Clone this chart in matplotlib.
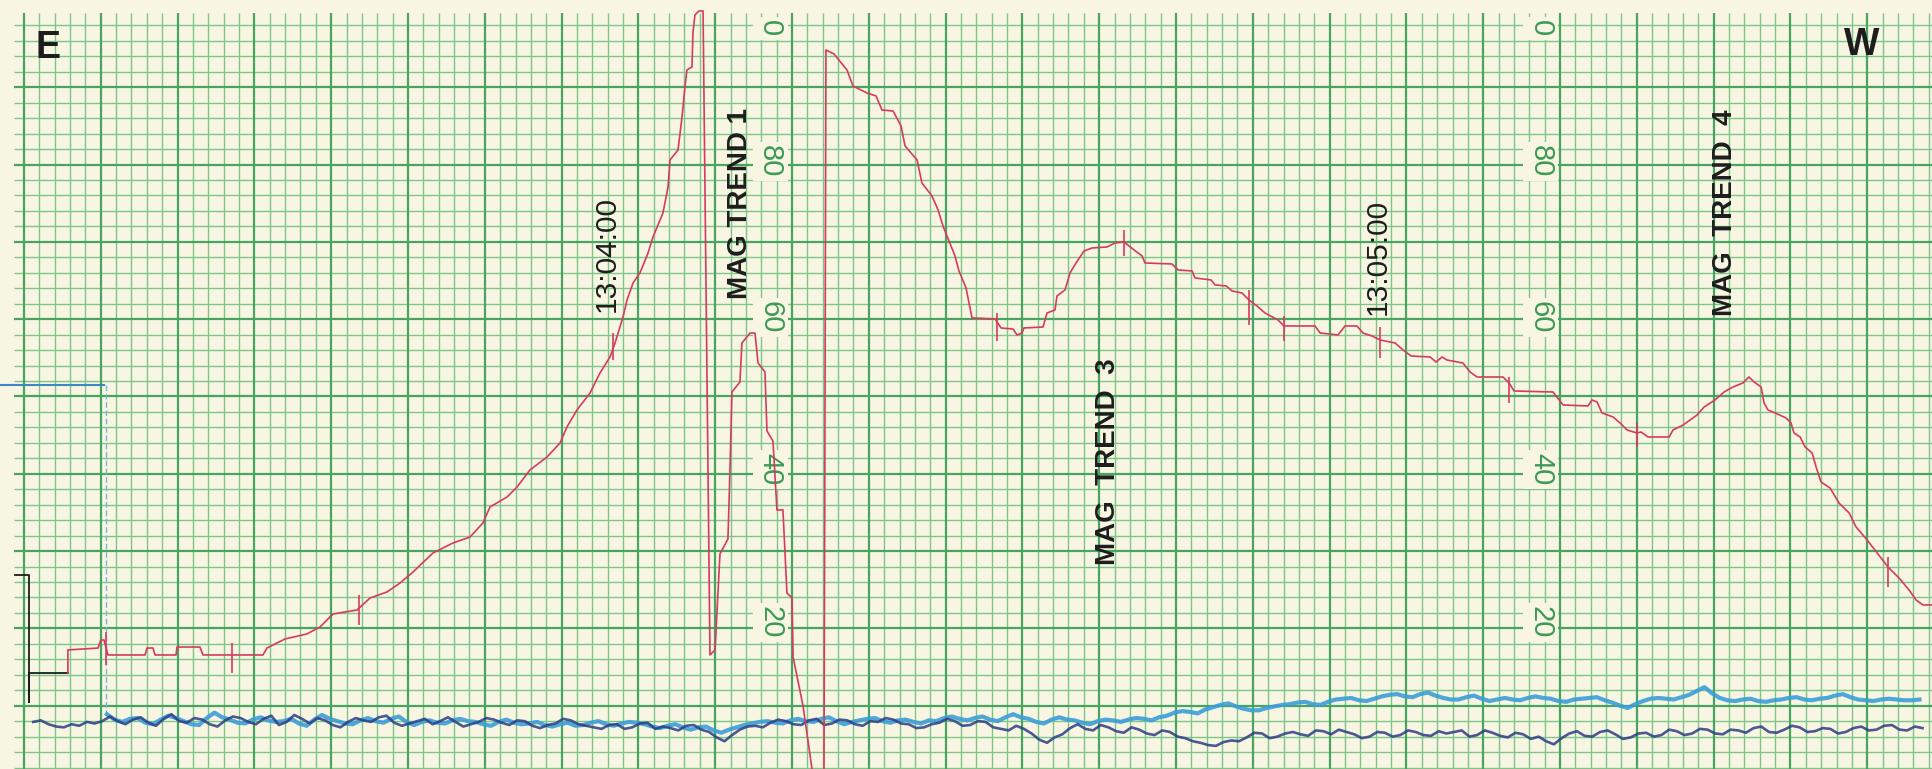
import matplotlib.pyplot as plt
import numpy as np

plt.rcParams["font.family"] = ["Liberation Sans", "DejaVu Sans"]

PAPER = "#f8f6e2"
GRID_MINOR = "#7cc68b"
GRID_MAJOR = "#47a461"
PEN_RED = "#d63b5e"
PEN_BLUE = "#3c9dd7"
PEN_NAVY = "#2d3d84"
INK = "#1d1d1d"
SCALE_GREEN = "#3b9a55"

# x: minor chart divisions, y: recorder scale units (0-100)
X_MIN, X_MAX = -1.56, 124.28
Y_MIN, Y_MAX = 1.81, 101.29

# zero-offset pen at the start of the strip
zero_x = [-0.59, 0.33, 0.33, 0.33, 0.33, 2.86]
zero_y = [26.91, 26.91, 10.5, 14.23, 14.23, 14.23]

# reference level (blue pen) before the run starts
ref_x = [-1.56, 5.2]
ref_y = [51.49, 51.49]
ref_drop_x = [5.34, 5.34]
ref_drop_y = [51.49, 8.3]

# magnetometer trend pen
mag_x = [
    2.86, 2.86, 4.82, 5.01, 5.21, 5.47, 7.88, 8.01, 8.40, 8.53, 9.90, 9.96,
    11.46, 11.65, 15.56, 15.82, 16.99, 18.42, 19.27, 20.12, 21.68, 22.53,
    23.63, 24.48, 25.33, 26.63, 27.93, 29.04, 29.88, 30.34, 31.45, 32.10,
    32.94, 34.05, 34.90, 35.35, 36.00, 36.85, 37.50, 38.15, 38.48, 39.00,
    39.26, 39.65, 40.10, 40.63, 40.95, 41.60, 41.93, 42.06, 42.58, 42.84,
    43.03, 43.16, 43.49, 43.55, 43.68, 43.95, 44.21, 44.66, 44.99, 45.31,
    45.83, 45.96, 46.09, 46.61, 46.74, 47.27, 47.59, 47.79, 48.24, 48.37,
    48.76, 49.02, 49.41, 49.67, 50.00, 50.07, 50.72, 51.17, 51.50, 52.08,
    52.21, 52.73, 53.58, 53.97, 54.88, 55.47, 55.86, 56.58, 57.10, 57.36,
    58.14, 58.46, 59.11, 59.51, 59.83, 60.22, 60.61, 60.87, 61.33, 61.72,
    63.22, 63.61, 64.39, 64.65, 64.97, 65.10, 66.34, 66.60, 67.12, 67.25,
    67.77, 68.10, 68.49, 69.01, 69.53, 70.51, 71.03, 71.61, 72.27, 72.79,
    72.98, 74.74, 75.13, 76.04, 76.24, 77.28, 77.54, 78.26, 78.65, 79.30,
    79.75, 80.27, 80.79, 81.64, 82.03, 84.05, 84.38, 85.55, 86.00, 86.78,
    87.17, 87.76, 88.28, 89.26, 89.78, 90.30, 91.54, 91.93, 92.32, 92.64,
    93.68, 94.14, 94.60, 96.29, 96.68, 97.01, 99.54, 100.20, 101.82, 102.08,
    102.41, 102.73, 103.45, 103.91, 104.36, 105.01, 105.27, 105.73, 107.10,
    107.36, 108.01, 108.46, 108.92, 109.38, 110.09, 110.68, 111.26, 111.91,
    112.30, 112.63, 113.09, 113.28, 113.54, 114.00, 114.71, 115.04, 115.23,
    115.63, 115.95, 116.41, 116.67, 116.99, 117.58, 118.16, 118.82, 119.27,
    119.99, 120.64, 121.35, 122.07, 122.72, 123.18, 123.63, 124.28,
]
mag_y = [
    14.23, 17.21, 17.46, 18.50, 18.50, 16.56, 16.56, 17.46, 17.46, 16.56, 16.56, 17.59,
    17.59, 16.56, 16.56, 17.46, 18.63, 19.28, 20.18, 21.86, 22.38, 23.93,
    24.71, 25.87, 27.30, 29.76, 31.05, 31.82, 33.64, 35.71, 37.00, 38.29,
    40.49, 42.17, 43.99, 46.06, 48.25, 50.45, 53.04, 55.11, 56.92, 60.29,
    62.48, 64.68, 65.98, 68.56, 70.63, 73.74, 77.10, 80.60, 81.89, 86.16,
    90.04, 92.24, 92.63, 97.03, 99.35, 99.87, 99.87, 16.56, 17.21, 29.63,
    31.57, 40.36, 50.58, 51.88, 56.92, 58.21, 58.21, 54.33, 53.17, 45.54,
    44.24, 35.32, 35.32, 24.58, 23.93, 16.30, 9.96, 3.62, -0.90, -0.90,
    94.83, 94.31, 92.24, 90.17, 89.26, 88.88, 87.06, 86.93, 84.99, 82.41,
    80.60, 77.62, 75.94, 74.13, 72.06, 70.12, 68.18, 66.24, 64.04, 60.16,
    60.03, 58.86, 58.73, 57.96, 58.21, 58.86, 58.99, 60.80, 61.19, 63.00,
    63.78, 65.98, 67.27, 68.82, 69.21, 69.34, 69.86, 69.99, 68.95, 68.18,
    67.27, 67.14, 66.37, 66.24, 65.33, 65.07, 64.43, 64.30, 63.65, 63.39,
    62.48, 61.71, 60.80, 59.90, 59.12, 59.12, 58.21, 57.96, 59.12, 59.12,
    58.21, 57.83, 57.31, 56.92, 56.02, 55.24, 55.11, 54.46, 55.11, 54.72,
    54.33, 53.17, 52.52, 52.52, 51.75, 50.71, 50.58, 48.90, 48.77, 49.55,
    49.29, 47.87, 47.35, 46.57, 45.67, 45.28, 45.41, 44.76, 44.76,
    45.67, 46.31, 46.96, 47.61, 48.64, 49.55, 50.58, 51.23, 51.75,
    52.52, 51.88, 51.23, 49.16, 48.25, 47.87, 47.22, 46.57, 45.28,
    44.76, 43.47, 42.69, 40.88, 38.94, 38.16, 36.22, 34.93, 33.12,
    31.44, 29.76, 27.94, 26.52, 24.97, 23.67, 23.03, 23.03,
]

# event marks written across the trend pen
tick_x = [5.34, 13.54, 21.81, 38.35, 63.35, 71.61, 79.75, 82.03, 88.28, 96.68, 105.01, 121.35]
tick_lo = [15.27, 14.23, 20.44, 54.72, 57.18, 68.18, 59.25, 57.18, 54.98, 49.16, 43.47, 25.36]
tick_hi = [19.53, 18.11, 24.32, 58.21, 60.80, 71.54, 63.78, 60.41, 58.99, 52.52, 46.57, 29.24]

# lower channels, sampled every half division
navy_start = 0.6
navy_y = [
    7.9, 8.1, 7.6, 7.3, 7.2, 7.6, 7.4, 7.9, 7.7, 8.0,
    8.6, 8.0, 7.6, 8.2, 8.5, 7.8, 7.4, 8.3, 8.9, 8.0,
    7.8, 8.4, 8.2, 7.6, 7.3, 8.1, 8.6, 8.4, 7.9, 7.6,
    8.3, 8.7, 7.5, 7.9, 8.8, 8.3, 7.7, 8.4, 8.1, 7.5,
    7.2, 7.9, 8.4, 8.1, 7.9, 8.5, 8.7, 7.8, 7.4, 7.7,
    8.0, 8.3, 7.6, 8.0, 8.5, 7.9, 7.3, 7.6, 7.9, 8.4,
    8.2, 7.8, 7.5, 8.1, 8.0, 7.4, 7.1, 7.5, 7.7, 8.3,
    8.1, 7.6, 7.4, 7.2, 7.0, 7.5, 7.6, 7.0, 7.2, 7.7,
    7.8, 7.0, 7.3, 7.1, 6.8, 7.4, 7.5, 6.9, 6.6, 5.9,
    5.4, 6.2, 6.9, 7.3, 7.4, 7.2, 7.8, 8.2, 8.0, 7.6,
    7.5, 8.1, 8.3, 7.5, 7.7, 8.2, 8.1, 7.6, 7.4, 8.0,
    7.9, 8.4, 8.2, 7.7, 7.6, 7.1, 7.2, 7.6, 7.8, 8.3,
    8.0, 7.4, 7.5, 8.0, 7.9, 7.2, 7.0, 6.8, 7.4, 7.0,
    6.4, 5.6, 5.2, 5.9, 6.3, 7.1, 7.6, 7.0, 6.8, 7.5,
    7.2, 6.7, 6.5, 7.2, 6.9, 6.4, 6.2, 6.8, 6.6, 6.0,
    5.8, 5.4, 5.2, 4.9, 4.8, 5.3, 5.5, 5.4, 5.9, 6.5,
    6.4, 5.8, 6.0, 6.4, 6.6, 6.3, 6.1, 6.8, 6.7, 6.3,
    6.9, 6.6, 6.3, 5.8, 6.0, 6.6, 6.5, 6.0, 6.2, 6.8,
    6.6, 6.2, 6.1, 6.7, 6.4, 6.6, 6.8, 6.0, 6.2, 6.8,
    6.5, 6.1, 5.9, 6.5, 6.3, 5.7, 6.0, 5.4, 5.0, 5.8,
    6.4, 6.7, 6.1, 6.0, 6.6, 6.8, 6.3, 5.7, 5.9, 6.4,
    6.5, 6.0, 6.2, 6.9, 6.7, 6.2, 6.4, 7.0, 6.9, 6.4,
    6.3, 6.9, 6.8, 6.5, 7.1, 7.3, 6.6, 6.5, 6.9, 7.4,
    7.2, 6.6, 6.7, 7.1, 7.0, 6.4, 6.6, 7.1, 7.3, 6.8,
    6.9, 7.4, 7.5, 6.9, 6.8, 7.3, 7.1,
]
blue_start = 5.4
blue_y = [
    8.9, 8.2, 7.9, 8.3, 8.4, 7.8, 7.6, 8.2, 8.7, 8.4,
    8.0, 7.6, 7.5, 8.4, 9.1, 8.5, 8.2, 7.8, 7.7, 8.2,
    8.5, 8.1, 7.9, 8.0, 8.3, 7.7, 7.4, 8.2, 8.8, 8.3,
    8.0, 7.7, 7.6, 8.1, 8.4, 8.0, 7.8, 8.3, 8.6, 7.9,
    7.5, 7.9, 8.1, 7.8, 7.7, 8.1, 8.3, 8.0, 7.9, 7.6,
    7.4, 7.9, 8.2, 7.8, 7.6, 7.7, 7.9, 7.5, 7.3, 7.6,
    7.8, 7.4, 7.5, 7.8, 8.0, 7.6, 7.4, 7.7, 7.9, 7.8,
    7.6, 7.3, 7.1, 7.4, 7.6, 7.2, 6.9, 7.2, 7.3, 6.8,
    6.5, 6.9, 7.2, 7.5, 7.7, 7.9, 8.0, 7.8, 7.7, 8.1,
    8.3, 8.0, 7.9, 8.3, 8.5, 8.0, 7.6, 7.9, 8.1, 8.3,
    8.4, 8.0, 7.8, 8.1, 8.2, 7.9, 7.7, 8.1, 8.0, 8.4,
    8.6, 8.3, 8.1, 8.4, 8.6, 8.2, 8.0, 8.5, 8.9, 8.5,
    8.3, 7.9, 7.7, 8.2, 8.5, 8.2, 8.1, 7.8, 7.6, 8.0,
    8.2, 8.1, 7.9, 8.2, 8.4, 8.3, 8.1, 8.5, 8.7, 9.1,
    9.3, 9.2, 9.0, 9.5, 9.8, 10.1, 10.3, 9.9, 9.6, 9.4,
    9.4, 9.7, 9.9, 10.1, 10.2, 10.4, 10.5, 10.2, 10.1, 10.5,
    10.8, 10.9, 11.0, 10.7, 10.6, 10.9, 11.2, 11.4, 11.5, 11.2,
    11.1, 11.5, 11.7, 11.3, 11.0, 10.8, 10.8, 11.1, 11.3, 10.9,
    10.6, 10.8, 11.0, 10.8, 10.7, 11.0, 11.2, 11.0, 10.9, 10.6,
    10.5, 10.8, 10.9, 11.0, 11.1, 10.7, 10.4, 10.0, 9.7, 10.2,
    10.6, 10.9, 11.0, 10.9, 10.8, 11.1, 11.4, 11.9, 12.4, 11.6,
    11.0, 10.7, 10.6, 10.8, 10.9, 10.6, 10.5, 10.7, 10.8, 11.0,
    11.1, 10.8, 10.7, 10.9, 11.0, 11.3, 11.5, 11.1, 10.8, 10.7,
    10.6, 10.8, 10.9, 10.8, 10.7, 10.7, 10.8,
]

# printed scale on the chart paper
scale_labels = ["0", "80", "60", "40", "20"]
scale_y = [97.6, 80.4, 60.2, 40.6, 20.8]
scale_columns = [48.57, 98.76]

# annotations written on the strip: (x, y, text, bold)
notes = [
    (37.96, 68.43, "13:04:00", False),
    (46.61, 74.90, "MAG TREND 1", True),
    (70.57, 41.53, "MAG  TREND  3", True),
    (88.15, 68.05, "13:05:00", False),
    (110.74, 73.74, "MAG  TREND  4", True),
]

fig = plt.figure(figsize=(19.33, 7.69), dpi=100, facecolor=PAPER)
ax = fig.add_axes([0, 0, 1, 1])
ax.set_facecolor(PAPER)
ax.set_xlim(X_MIN, X_MAX)
ax.set_ylim(Y_MIN, Y_MAX)
ax.axis("off")

# chart paper grid
cols = np.arange(0, 125)
rows = np.arange(2, 100, 2)
ax.vlines(cols[cols % 5 != 0], Y_MIN, 99.6, color=GRID_MINOR, lw=1.0, zorder=1)
ax.hlines(rows[rows % 10 != 0], -0.65, X_MAX, color=GRID_MINOR, lw=1.0, zorder=1)
ax.vlines(cols[cols % 5 == 0], Y_MIN, 99.6, color=GRID_MAJOR, lw=1.6, zorder=2)
ax.hlines(rows[rows % 10 == 0], -0.65, X_MAX, color=GRID_MAJOR, lw=1.6, zorder=2)

for cx in scale_columns:
    for lab, sy in zip(scale_labels, scale_y):
        ax.text(cx, sy, lab, rotation=-90, ha="center", va="center", fontsize=21,
                color=SCALE_GREEN, zorder=3,
                bbox=dict(boxstyle="square,pad=0.12", fc=PAPER, ec="none"))

# pens
ax.plot(ref_x, ref_y, color="#3f86c6", lw=1.5, zorder=5)
ax.plot(ref_drop_x, ref_drop_y, color="#7db4df", lw=1.0, ls=(0, (4, 2)), zorder=5)
ax.plot(zero_x, zero_y, color=INK, lw=1.3, zorder=5)

navy_x = navy_start + 0.5 * np.arange(len(navy_y))
blue_x = blue_start + 0.5 * np.arange(len(blue_y))
ax.plot(blue_x, blue_y, color=PEN_BLUE, lw=3.0, alpha=0.9, zorder=5)
ax.plot(navy_x, navy_y, color=PEN_NAVY, lw=1.9, alpha=0.85, zorder=6)

ax.plot(mag_x, mag_y, color=PEN_RED, lw=1.2, zorder=7)
ax.vlines(tick_x, tick_lo, tick_hi, color=PEN_RED, lw=1.2, zorder=7)

# strip annotations
ax.text(1.56, 95.1, "E", fontsize=27, fontweight="bold", color=INK,
        ha="center", va="center", zorder=8)
ax.text(119.66, 95.5, "W", fontsize=27, fontweight="bold", color=INK,
        ha="center", va="center", zorder=8)
for nx, ny, txt, bold in notes:
    ax.text(nx, ny, txt, rotation=90, ha="center", va="center",
            fontsize=20 if bold else 21.5, fontweight="bold" if bold else "normal",
            color=INK, zorder=8)

fig.savefig("out.png", dpi=100, facecolor=PAPER)
